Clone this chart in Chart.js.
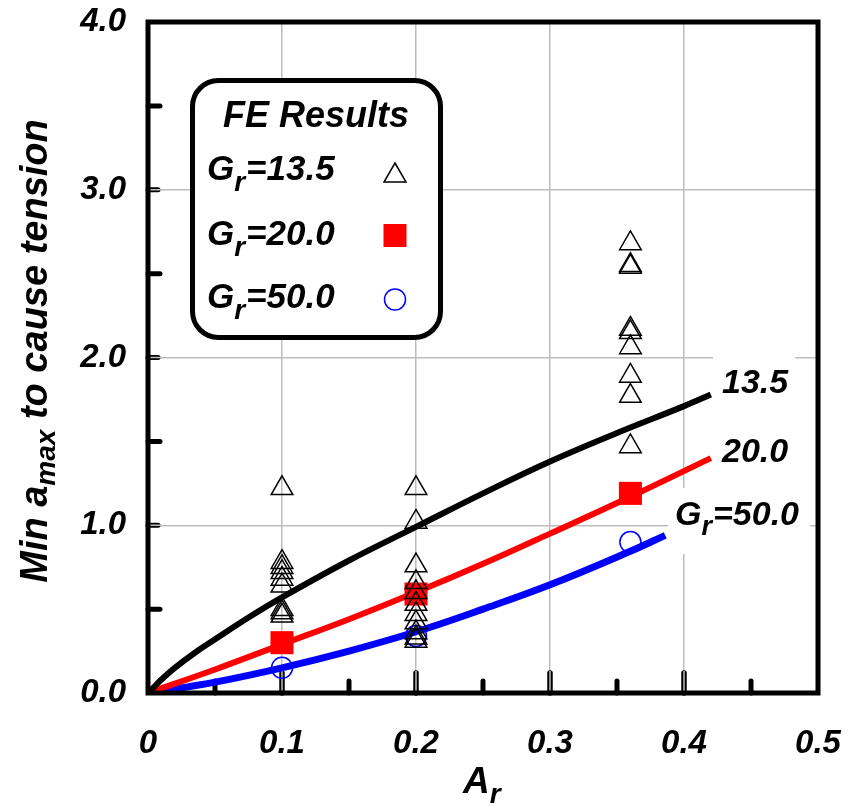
<!DOCTYPE html>
<html><head><meta charset="utf-8">
<script src="https://cdn.jsdelivr.net/npm/chart.js@4/dist/chart.umd.min.js"></script>
<style>html,body{margin:0;padding:0;background:#fff}#wrap{width:859px;height:806px;position:relative}</style>
</head><body><div id="wrap"><canvas id="c" width="859" height="806"></canvas></div>
<script>
// ---- Data ----
const xTickValues = [0, 0.1, 0.2, 0.3, 0.4, 0.5];
const xTickLabels = ['0', '0.1', '0.2', '0.3', '0.4', '0.5'];
const yTickValues = [0, 1, 2, 3, 4];
const yTickLabels = ['0.0', '1.0', '2.0', '3.0', '4.0'];
const xMinorTicks = [0.05, 0.15, 0.25, 0.35, 0.45];
const yMinorTicks = [0.5, 1.5, 2.5, 3.5];

// FE results, Gr = 13.5 (open triangles)
const fe135X = [0.1,0.1,0.1,0.1,0.1,0.1,0.1,0.1,0.1,
                0.2,0.2,0.2,0.2,0.2,0.2,0.2,0.2,0.2,0.2,0.2,
                0.36,0.36,0.36,0.36,0.36,0.36,0.36,0.36,0.36];
const fe135Y = [1.22,0.78,0.75,0.72,0.68,0.64,0.50,0.48,0.46,
                1.22,1.02,0.76,0.66,0.60,0.53,0.47,0.42,0.36,0.33,0.31,
                2.68,2.55,2.54,2.17,2.15,2.06,1.89,1.77,1.47];
// FE results, Gr = 20.0 (filled squares)
const fe20X = [0.1, 0.2, 0.36];
const fe20Y = [0.30, 0.59, 1.19];
// FE results, Gr = 50.0 (open circles)
const fe50X = [0.1, 0.2, 0.36];
const fe50Y = [0.15, 0.34, 0.90];

// Fitted curves
const fit135X = [0, 0.005, 0.01, 0.02, 0.035, 0.05, 0.075, 0.1, 0.15, 0.2, 0.25, 0.3, 0.35, 0.4, 0.42];
const fit135Y = [0, 0.04, 0.08, 0.15, 0.24, 0.32, 0.45, 0.57, 0.79, 0.99, 1.19, 1.38, 1.55, 1.71, 1.78];
const fit20X = [0, 0.05, 0.1, 0.15, 0.2, 0.25, 0.3, 0.36, 0.42];
const fit20Y = [0, 0.14, 0.29, 0.44, 0.60, 0.77, 0.95, 1.17, 1.40];
const fit50X = [0, 0.05, 0.1, 0.15, 0.2, 0.25, 0.3, 0.36, 0.386];
const fit50Y = [0, 0.065, 0.15, 0.25, 0.365, 0.50, 0.645, 0.845, 0.94];

const legendTitle = 'FE Results';
const seriesNames = ['13.5', '20.0', '50.0'];

// ---- Helpers ----
const pts = (xs, ys) => xs.map((x, i) => ({x: x, y: ys[i]}));
const F = (s) => 'italic bold ' + s + 'px "Liberation Sans", Arial, sans-serif';
const GRID = '#bdbdbd';

function drawParts(ctx, x, y, parts) {
  let cx = x;
  parts.forEach(p => {
    ctx.font = F(p[1]);
    ctx.fillText(p[0], cx, y + (p[2] || 0));
    cx += ctx.measureText(p[0]).width + (p[3] || 0);
  });
  return cx;
}
function partsWidth(ctx, parts) {
  let w = 0;
  parts.forEach(p => { ctx.font = F(p[1]); w += ctx.measureText(p[0]).width + (p[3] || 0); });
  return w;
}

const decor = {
  id: 'decor',
  beforeDatasetsDraw(chart) {
    const ctx = chart.ctx, xs = chart.scales.x, ys = chart.scales.y, a = chart.chartArea;
    ctx.save();
    ctx.lineCap = 'round';
    ctx.strokeStyle = '#000'; ctx.lineWidth = 5;
    xMinorTicks.forEach(v => {
      const px = xs.getPixelForValue(v);
      ctx.beginPath(); ctx.moveTo(px, a.bottom); ctx.lineTo(px, a.bottom - 12); ctx.stroke();
    });
    yMinorTicks.forEach(v => {
      const py = ys.getPixelForValue(v);
      ctx.beginPath(); ctx.moveTo(a.left, py); ctx.lineTo(a.left + 12, py); ctx.stroke();
    });
    xTickValues.slice(1, -1).forEach(v => {
      const px = xs.getPixelForValue(v);
      ctx.strokeStyle = '#000'; ctx.lineWidth = 5.5;
      ctx.beginPath(); ctx.moveTo(px, a.bottom); ctx.lineTo(px, a.bottom - 20); ctx.stroke();
      ctx.strokeStyle = GRID; ctx.lineWidth = 1.5; ctx.lineCap = 'butt';
      ctx.beginPath(); ctx.moveTo(px, a.bottom); ctx.lineTo(px, a.bottom - 22); ctx.stroke();
      ctx.lineCap = 'round';
    });
    yTickValues.slice(1, -1).forEach(v => {
      const py = ys.getPixelForValue(v);
      ctx.strokeStyle = '#000'; ctx.lineWidth = 5;
      ctx.beginPath(); ctx.moveTo(a.left, py); ctx.lineTo(a.left + 10, py); ctx.stroke();
      ctx.strokeStyle = GRID; ctx.lineWidth = 1.5; ctx.lineCap = 'butt';
      ctx.beginPath(); ctx.moveTo(a.left, py); ctx.lineTo(a.left + 14, py); ctx.stroke();
      ctx.lineCap = 'round';
    });
    ctx.restore();
  },
  afterDatasetsDraw(chart) {
    const ctx = chart.ctx, a = chart.chartArea;
    ctx.save();
    ctx.textBaseline = 'alphabetic';
    ctx.textAlign = 'left';

    // curve labels with white backgrounds
    ctx.fillStyle = '#fff';
    ctx.fillRect(713, 345, 82, 70);
    ctx.fillRect(713, 415, 82, 70);
    ctx.fillRect(668, 488, 142, 66);
    ctx.fillStyle = '#000';
    drawParts(ctx, 722, 393, [[seriesNames[0], 34]]);
    drawParts(ctx, 722, 462, [[seriesNames[1], 34]]);
    drawParts(ctx, 675, 525, [['G', 34], ['r', 27, 10, 1], ['=' + seriesNames[2], 34]]);

    // legend box
    ctx.beginPath();
    ctx.roundRect(192.5, 80.5, 248, 257, 26);
    ctx.fillStyle = '#fff'; ctx.fill();
    ctx.lineWidth = 5; ctx.strokeStyle = '#000'; ctx.stroke();
    ctx.fillStyle = '#000';
    ctx.font = F(36);
    ctx.textAlign = 'center';
    ctx.fillText(legendTitle, 316, 127);
    ctx.textAlign = 'left';
    const rowsY = [180, 245, 308];
    rowsY.forEach((by, i) => {
      drawParts(ctx, 207, by, [['G', 35], ['r', 28, 11, 1], ['=' + seriesNames[i], 35]]);
    });
    ctx.lineWidth = 1.5; ctx.strokeStyle = '#000';
    ctx.beginPath();
    ctx.moveTo(395, 163); ctx.lineTo(406, 182); ctx.lineTo(384, 182); ctx.closePath(); ctx.stroke();
    ctx.fillStyle = '#ff0000';
    ctx.fillRect(383.5, 224, 23, 23);
    ctx.strokeStyle = '#0000ff';
    ctx.beginPath(); ctx.arc(395, 299.5, 10.5, 0, Math.PI * 2); ctx.stroke();

    // frame
    ctx.strokeStyle = '#000'; ctx.lineWidth = 5;
    ctx.strokeRect(a.left, a.top, a.right - a.left, a.bottom - a.top);

    // axis titles
    ctx.fillStyle = '#000';
    drawParts(ctx, 463, 793, [['A', 37], ['r', 28, 10]]);
    ctx.translate(47, 351);
    ctx.rotate(-Math.PI / 2);
    const yParts = [['Min a', 38], ['max', 28, 8], [' to cause tension', 38]];
    const w = partsWidth(ctx, yParts);
    drawParts(ctx, -w / 2, 0, yParts);
    ctx.restore();
  }
};

new Chart(document.getElementById('c'), {
  type: 'scatter',
  data: {
    datasets: [
      { label: 'FE Gr=13.5', data: pts(fe135X, fe135Y), pointStyle: 'triangle', pointRadius: 12.5,
        pointBorderColor: '#000', pointBackgroundColor: 'rgba(0,0,0,0)', pointBorderWidth: 1.5, showLine: false, order: 1 },
      { label: 'FE Gr=20.0', data: pts(fe20X, fe20Y), pointStyle: 'rect', pointRadius: 16.3,
        pointBorderColor: '#ff0000', pointBackgroundColor: '#ff0000', pointBorderWidth: 0, showLine: false, order: 1 },
      { label: 'FE Gr=50.0', data: pts(fe50X, fe50Y), pointStyle: 'circle', pointRadius: 10.5,
        pointBorderColor: '#0000ff', pointBackgroundColor: 'rgba(0,0,0,0)', pointBorderWidth: 1.5, showLine: false, order: 1 },
      { label: '13.5', data: pts(fit135X, fit135Y), showLine: true, pointRadius: 0, borderColor: '#000',
        borderWidth: 6, tension: 0.4, order: 5 },
      { label: '20.0', data: pts(fit20X, fit20Y), showLine: true, pointRadius: 0, borderColor: '#ff0000',
        borderWidth: 6, tension: 0.4, order: 5 },
      { label: '50.0', data: pts(fit50X, fit50Y), showLine: true, pointRadius: 0, borderColor: '#0000ff',
        borderWidth: 7, tension: 0.4, order: 5 }
    ]
  },
  options: {
    responsive: false, animation: false, devicePixelRatio: 1,
    layout: { padding: { left: 0, top: 22, right: 41, bottom: 0 } },
    plugins: { legend: { display: false }, tooltip: { enabled: false } },
    scales: {
      x: {
        type: 'linear', min: 0, max: 0.5,
        afterBuildTicks: s => { s.ticks = xTickValues.map(v => ({ value: v })); },
        afterFit: s => { s.height = 113; s.paddingLeft = 0; s.paddingRight = 0; s.paddingTop = 0; s.paddingBottom = 0; },
        grid: { color: GRID, lineWidth: 1.5, drawTicks: false },
        border: { display: false },
        ticks: { padding: 31, color: '#000', font: { family: '"Liberation Sans", Arial, sans-serif', size: 33, weight: 'bold', style: 'italic' },
                 maxRotation: 0, autoSkip: false, callback: (v, i) => xTickLabels[i] }
      },
      y: {
        type: 'linear', min: 0, max: 4,
        afterBuildTicks: s => { s.ticks = yTickValues.map(v => ({ value: v })); },
        afterFit: s => { s.width = 148; s.paddingLeft = 0; s.paddingRight = 0; s.paddingTop = 0; s.paddingBottom = 0; },
        grid: { color: GRID, lineWidth: 1.5, drawTicks: false },
        border: { display: false },
        ticks: { padding: 22, color: '#000', font: { family: '"Liberation Sans", Arial, sans-serif', size: 33, weight: 'bold', style: 'italic' },
                 autoSkip: false, callback: (v, i) => yTickLabels[i] }
      }
    }
  },
  plugins: [decor]
});
</script></body></html>
